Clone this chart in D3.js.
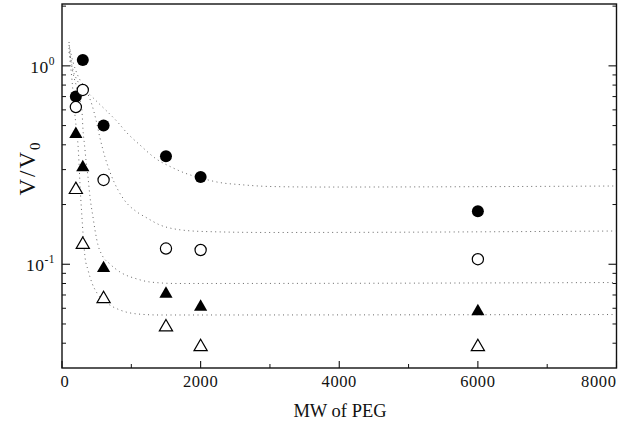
<!DOCTYPE html>
<html>
<head>
<meta charset="utf-8">
<script src="https://cdn.jsdelivr.net/npm/d3@7"></script>
<style>
  html, body { margin: 0; padding: 0; background: #fff; }
  svg { display: block; }
  text { font-family: "Liberation Serif", "Times New Roman", serif; fill: #111; }
</style>
</head>
<body>
<script>
// ---- data ----
const mwValues = [200, 300, 600, 1500, 2000, 6000];
const filledCircles = [0.70, 1.07, 0.50, 0.35, 0.275, 0.185];
const openCircles = [0.62, 0.756, 0.266, 0.120, 0.118, 0.106];
const filledTriangles = [0.46, 0.313, 0.097, 0.072, 0.062, 0.0588];
const openTriangles = [0.2415, 0.1276, 0.068, 0.049, 0.039, 0.039];

// dotted fitted curves: [MW, V/V0]
const curveFilledCircles = [[101,1.319],[130,1.070],[159,0.953],[202,0.869],[289,0.782],[404,0.715],[505,0.660],[649,0.590],[793,0.525],[938,0.459],[1125,0.399],[1342,0.343],[1601,0.306],[1774,0.288],[2005,0.272],[2280,0.258],[2568,0.252],[3001,0.2466],[3722,0.245],[7990,0.248]];
const curveOpenCircles = [[101,1.274],[159,1.046],[231,0.889],[332,0.773],[433,0.635],[491,0.533],[548,0.433],[620,0.347],[692,0.2917],[808,0.2367],[909,0.2084],[1082,0.1834],[1226,0.1711],[1414,0.1577],[1630,0.1505],[2034,0.1463],[3001,0.1446],[7990,0.1471]];
const curveFilledTriangles = [[101,1.230],[159,0.920],[216,0.773],[260,0.673],[289,0.585],[303,0.475],[325,0.399],[346,0.335],[375,0.2753],[404,0.2183],[447,0.1730],[476,0.1488],[519,0.1251],[577,0.1113],[692,0.1003],[837,0.0914],[1082,0.0843],[1270,0.0814],[1659,0.0800],[7990,0.0809]];
const curveOpenTriangles = [[101,1.175],[144,0.849],[180,0.599],[209,0.475],[231,0.399],[245,0.3277],[260,0.2508],[284,0.1813],[307,0.1372],[332,0.1088],[375,0.0936],[433,0.0804],[505,0.0716],[649,0.0638],[837,0.0588],[1082,0.0562],[1414,0.0555],[7990,0.0558]];

const xMajorTicks = [0, 2000, 4000, 6000, 8000];
const xMinorTicks = [1000, 3000, 5000, 7000];
const yMajorTicks = [0.1, 1];
const yMinorTicks = [0.04,0.05,0.06,0.07,0.08,0.09,0.2,0.3,0.4,0.5,0.6,0.7,0.8,0.9,2];

// ---- layout ----
const W = 621, H = 427;
const svg = d3.select("body").append("svg").attr("width", W).attr("height", H);

const x = d3.scaleLinear().domain([0, 8000]).range([62, 616.5]);
const y = d3.scaleLog().domain([0.03, 2.05]).range([368, 4]);

// frame
svg.append("rect")
  .attr("x", x(0)).attr("y", y(2.05))
  .attr("width", x(8000) - x(0)).attr("height", y(0.03) - y(2.05))
  .attr("fill", "none").attr("stroke", "#111").attr("stroke-width", 1.4);

// x ticks (inward)
const gx = svg.append("g");
gx.selectAll("line.maj").data(xMajorTicks).join("line")
  .attr("x1", d => x(d)).attr("x2", d => x(d))
  .attr("y1", y(0.03)).attr("y2", y(0.03) - 7)
  .attr("stroke", "#111").attr("stroke-width", 1.1);
gx.selectAll("line.min").data(xMinorTicks).join("line")
  .attr("x1", d => x(d)).attr("x2", d => x(d))
  .attr("y1", y(0.03)).attr("y2", y(0.03) - 4)
  .attr("stroke", "#111").attr("stroke-width", 1);
gx.selectAll("text").data(xMajorTicks).join("text")
  .attr("x", d => x(d) + (d === 0 ? 3 : 0)).attr("y", 387)
  .attr("text-anchor", d => d === 8000 ? "end" : "middle")
  .attr("font-size", 16.5).attr("letter-spacing", 0.6)
  .text(d => d);

// y ticks (inward, left and right)
const gy = svg.append("g");
[[x(0), 1], [x(8000), -1]].forEach(([x0, dir]) => {
  gy.append("g").selectAll("line").data(yMajorTicks).join("line")
    .attr("x1", x0).attr("x2", x0 + dir * 8)
    .attr("y1", d => y(d)).attr("y2", d => y(d))
    .attr("stroke", "#111").attr("stroke-width", 1.1);
  gy.append("g").selectAll("line").data(yMinorTicks).join("line")
    .attr("x1", x0).attr("x2", x0 + dir * 4)
    .attr("y1", d => y(d)).attr("y2", d => y(d))
    .attr("stroke", "#111").attr("stroke-width", 1);
});
const yl = gy.append("g").selectAll("text").data(yMajorTicks).join("text")
  .attr("x", 55).attr("y", d => y(d) + 7)
  .attr("text-anchor", "end")
  .attr("font-size", 17.5).attr("letter-spacing", 0.5);
yl.append("tspan").text("10");
yl.append("tspan").attr("dy", -8).attr("font-size", 11.5)
  .text(d => String(Math.round(Math.log10(d))));

// axis titles
svg.append("text").attr("x", 340).attr("y", 417)
  .attr("text-anchor", "middle").attr("font-size", 18.5)
  .text("MW of PEG");
const yt = svg.append("text")
  .attr("transform", "translate(35,168) rotate(-90)")
  .attr("text-anchor", "middle").attr("font-size", 23).attr("letter-spacing", 2);
yt.append("tspan").text("V/V");
yt.append("tspan").attr("dy", 5).attr("font-size", 15).text("0");

// dotted curves
const line = d3.line().x(d => x(d[0])).y(d => y(d[1])).curve(d3.curveMonotoneX);
const curves = [curveFilledCircles, curveOpenCircles, curveFilledTriangles, curveOpenTriangles];
svg.append("g").selectAll("path").data(curves).join("path")
  .attr("d", line)
  .attr("fill", "none").attr("stroke", "#666").attr("stroke-width", 1)
  .attr("stroke-dasharray", "1 3.5");

// markers
const tri = "M0,-6.2L6.6,5.2L-6.6,5.2Z";
const pts = (vals) => mwValues.map((m, i) => [m, vals[i]]);
const gm = svg.append("g");
gm.selectAll("circle.fc").data(pts(filledCircles)).join("circle")
  .attr("cx", d => x(d[0])).attr("cy", d => y(d[1])).attr("r", 6)
  .attr("fill", "#000");
gm.selectAll("circle.oc").data(pts(openCircles)).join("circle")
  .attr("cx", d => x(d[0])).attr("cy", d => y(d[1])).attr("r", 5.6)
  .attr("fill", "#fff").attr("stroke", "#000").attr("stroke-width", 1.2);
gm.selectAll("path.ft").data(pts(filledTriangles)).join("path")
  .attr("transform", d => `translate(${x(d[0])},${y(d[1])})`)
  .attr("d", tri).attr("fill", "#000");
gm.selectAll("path.ot").data(pts(openTriangles)).join("path")
  .attr("transform", d => `translate(${x(d[0])},${y(d[1])})`)
  .attr("d", tri).attr("fill", "#fff").attr("stroke", "#000").attr("stroke-width", 1.2);
</script>
</body>
</html>
